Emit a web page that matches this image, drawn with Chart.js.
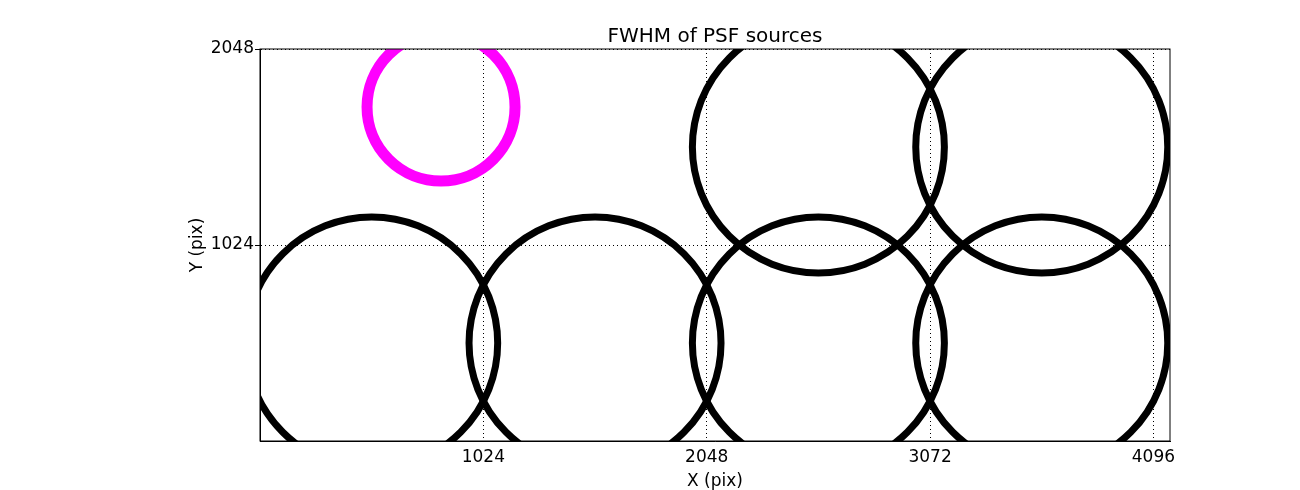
<!DOCTYPE html>
<html lang="en">
<head>
    <meta charset="UTF-8">
    <title>FWHM of PSF sources</title>
    <script src="https://cdn.jsdelivr.net/npm/chart.js"></script>
    <style>
        html, body {
            margin: 0;
            padding: 0;
            background: white;
        }
        #wrap {
            width: 1300px;
            height: 490px;
        }
    </style>
</head>
<body>
    <div id="wrap"><canvas id="psfChart"></canvas></div>
    <script>
        // source positions (pix) and FWHM drawn as circle radius
        const sourceX = [512, 1536, 2560, 3584, 2560, 3584];
        const sourceY = [512, 512, 512, 512, 1536, 1536];
        const sourceFwhm = [126, 126, 126, 126, 126, 126];

        // reference circle
        const refX = [830];
        const refY = [1745];
        const refFwhm = [74];

        const xTicks = [1024, 2048, 3072, 4096];
        const yTicks = [1024, 2048];
        const xRange = [0, 4172];
        const yRange = [0, 2048];

        const toBubbles = (xs, ys, rs) => xs.map((x, i) => ({ x, y: ys[i], r: rs[i] }));

        const framePlugin = {
            id: "frame",
            afterDatasetsDraw(chart) {
                const { ctx, chartArea } = chart;
                ctx.save();
                ctx.strokeStyle = "#000";
                ctx.lineWidth = 1;
                ctx.strokeRect(chartArea.left, chartArea.top, chartArea.right - chartArea.left, chartArea.bottom - chartArea.top);
                ctx.restore();
            }
        };

        Chart.defaults.font.family = "'DejaVu Sans', sans-serif";
        Chart.defaults.color = "#000";

        new Chart(document.getElementById("psfChart"), {
            type: "bubble",
            data: {
                datasets: [
                    {
                        label: "sources",
                        data: toBubbles(sourceX, sourceY, sourceFwhm),
                        backgroundColor: "rgba(0,0,0,0)",
                        borderColor: "#000",
                        borderWidth: 7,
                        clip: 0
                    },
                    {
                        label: "reference",
                        data: toBubbles(refX, refY, refFwhm),
                        backgroundColor: "rgba(0,0,0,0)",
                        borderColor: "#ff00ff",
                        borderWidth: 11,
                        clip: 0
                    }
                ]
            },
            options: {
                responsive: true,
                maintainAspectRatio: false,
                animation: false,
                events: [],
                layout: { autoPadding: false, padding: { left: 180, right: 130, top: 0, bottom: 0 } },
                plugins: {
                    legend: { display: false },
                    tooltip: { enabled: false },
                    title: {
                        display: true,
                        text: "FWHM of PSF sources",
                        fullSize: false,
                        font: { size: 20, weight: "normal" },
                        padding: { top: 25, bottom: 0 }
                    }
                },
                scales: {
                    x: {
                        type: "linear",
                        min: xRange[0],
                        max: xRange[1],
                        afterBuildTicks: (scale) => { scale.ticks = xTicks.map(v => ({ value: v })); },
                        afterFit: (scale) => { scale.height = 49; },
                        ticks: { autoSkip: false, maxRotation: 0, padding: 6, font: { size: 17 }, callback: (v) => String(v) },
                        grid: { color: "#000", lineWidth: 1, drawTicks: false },
                        border: { color: "#000", width: 1, dash: [1, 3] },
                        title: { display: true, text: "X (pix)", font: { size: 17 }, padding: { top: 0, bottom: -2 } }
                    },
                    y: {
                        type: "linear",
                        min: yRange[0],
                        max: yRange[1],
                        afterBuildTicks: (scale) => { scale.ticks = yTicks.map(v => ({ value: v })); },
                        afterFit: (scale) => { scale.width = 80; },
                        ticks: { autoSkip: false, padding: 1, font: { size: 17 }, callback: (v) => String(v) },
                        grid: { color: "#000", lineWidth: 1, drawTicks: true, tickLength: 5, tickBorderDash: [] },
                        border: { color: "#000", width: 1, dash: [1, 3] },
                        title: { display: true, text: "Y (pix)", font: { size: 17 }, padding: { top: 7, bottom: 0 } }
                    }
                }
            },
            plugins: [framePlugin]
        });
    </script>
</body>
</html>
